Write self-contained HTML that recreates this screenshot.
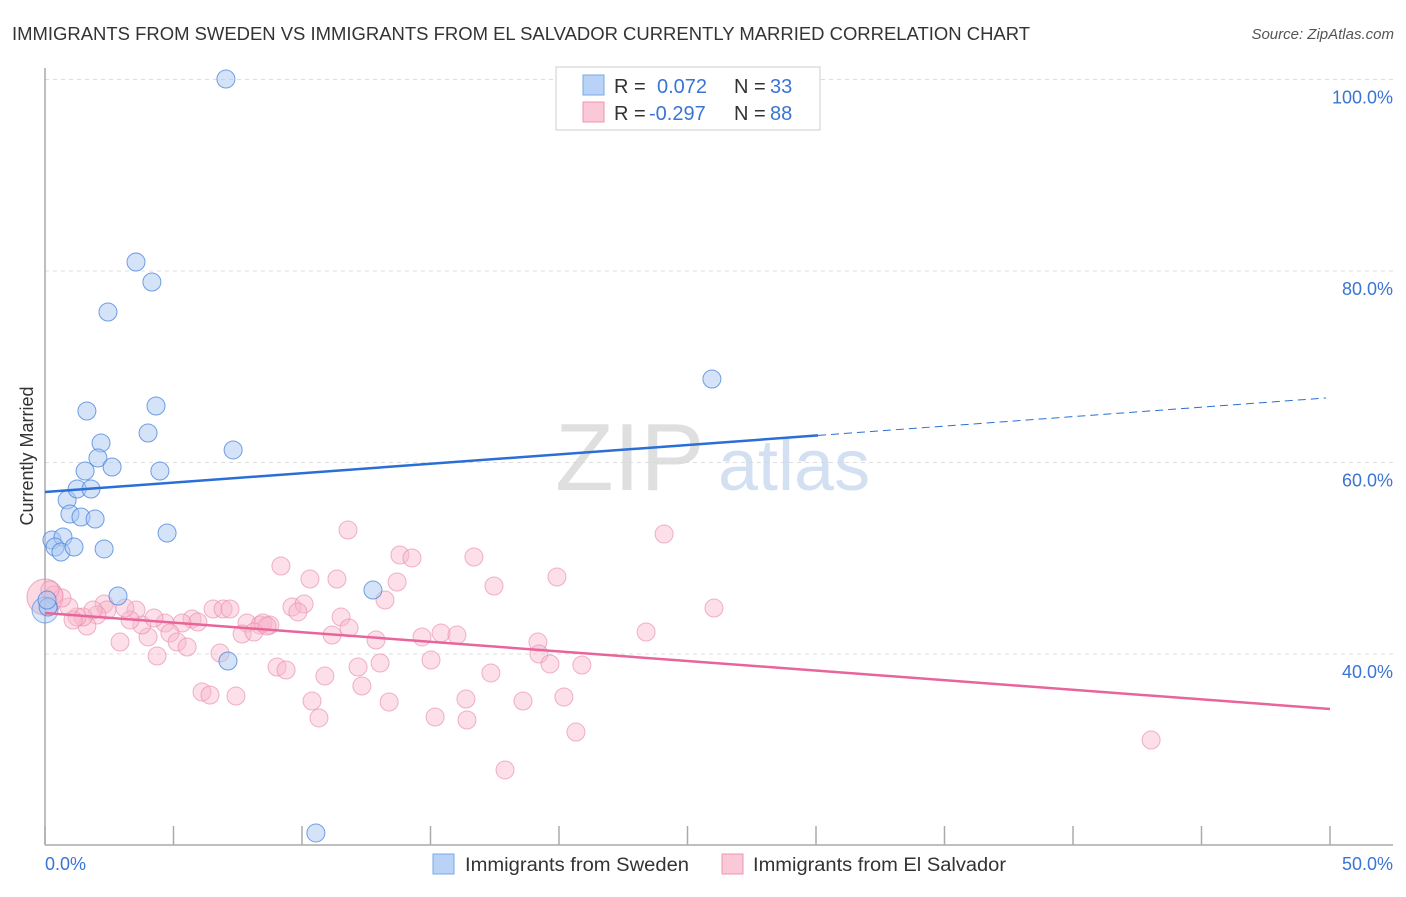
<!DOCTYPE html>
<html><head><meta charset="utf-8"><style>
body{margin:0;background:#fff;font-family:"Liberation Sans",sans-serif;}
svg text{font-family:"Liberation Sans",sans-serif;}
</style></head><body>
<svg id="chart" width="1406" height="892" xmlns="http://www.w3.org/2000/svg">
<text x="12" y="40" font-size="18" fill="#333" textLength="1018" lengthAdjust="spacingAndGlyphs">IMMIGRANTS FROM SWEDEN VS IMMIGRANTS FROM EL SALVADOR CURRENTLY MARRIED CORRELATION CHART</text>
<text x="1394" y="39" font-size="15" fill="#555" font-style="italic" text-anchor="end">Source: ZipAtlas.com</text>
<text transform="translate(33,456) rotate(-90)" font-size="18" fill="#333" text-anchor="middle">Currently Married</text>
<g id="grid"></g>
<text x="555" y="490" font-size="96" fill="#d8d8d8" font-family="Liberation Serif" opacity="0.8">ZIP</text>
<text x="718" y="490" font-size="72" fill="#c9d9f0" opacity="0.8">atlas</text>
<g id="marks"></g>
<g>
<rect x="556" y="67" width="264" height="63" fill="#fff" stroke="#ccc"/>
<rect x="583" y="75" width="21" height="20" fill="#b8d3f5" stroke="#7aa7e6"/>
<rect x="583" y="102" width="21" height="20" fill="#fac8d6" stroke="#ee94b0"/>
<text x="614" y="93" font-size="20" fill="#333">R =</text>
<text x="657" y="93" font-size="20" fill="#3a74d4">0.072</text>
<text x="734" y="93" font-size="20" fill="#333">N =</text>
<text x="770" y="93" font-size="20" fill="#3a74d4">33</text>
<text x="614" y="120" font-size="20" fill="#333">R =</text>
<text x="649" y="120" font-size="20" fill="#3a74d4">-0.297</text>
<text x="734" y="120" font-size="20" fill="#333">N =</text>
<text x="770" y="120" font-size="20" fill="#3a74d4">88</text>
</g>
<text x="45" y="870" font-size="18" fill="#3a74d4">0.0%</text>
<text x="1393" y="870" font-size="18" fill="#3a74d4" text-anchor="end">50.0%</text>
<rect x="433" y="854" width="21" height="20" fill="#b8d3f5" stroke="#7aa7e6"/>
<text x="465" y="871" font-size="19" fill="#333" textLength="224" lengthAdjust="spacingAndGlyphs">Immigrants from Sweden</text>
<rect x="722" y="854" width="21" height="20" fill="#fac8d6" stroke="#ee94b0"/>
<text x="753" y="871" font-size="19" fill="#333" textLength="253" lengthAdjust="spacingAndGlyphs">Immigrants from El Salvador</text>
</svg>
<script>
const yTicks=[40,60,80,100];
const yTickLabels=["40.0%","60.0%","80.0%","100.0%"];
const xTicks=[0,5,10,15,20,25,30,35,40,45,50];
const swedenX=[7.04,3.54,4.16,2.45,25.95,1.63,4.32,4.01,2.18,7.32,2.06,1.56,2.61,4.47,0.86,1.25,1.79,0.97,1.40,1.95,4.75,0.27,0.70,0.39,0.62,1.13,2.30,2.84,12.76,7.12,10.54,0.12,0.08];
const swedenY=[100.05,80.94,78.85,75.72,68.72,65.38,65.9,63.08,62.04,61.31,60.47,59.11,59.53,59.11,56.08,57.23,57.23,54.62,54.31,54.1,52.64,51.91,52.22,51.17,50.65,51.17,50.97,46.06,46.68,39.27,21.31,44.91,45.64];
const salvX=[11.79,9.18,10.31,11.36,13.81,13.70,13.23,9.61,10.08,9.84,11.52,11.83,11.17,12.88,13.04,12.18,12.33,10.89,10.39,13.39,10.66,9.03,9.38,6.81,6.11,6.42,7.43,6.54,6.93,7.20,7.86,8.37,8.75,8.48,7.67,8.13,8.64,5.72,5.95,5.33,4.67,4.86,5.14,5.53,4.36,4.01,3.77,4.24,3.54,3.31,2.92,3.11,2.30,2.41,2.02,1.87,1.63,1.48,1.25,1.09,0.93,0.66,0.35,0.19,14.28,16.69,24.09,19.92,17.47,26.03,23.39,14.67,15.41,16.03,19.18,19.22,19.65,20.89,15.02,17.35,16.38,18.60,20.19,15.18,16.42,20.66,17.90,43.04];
const salvY=[52.95,49.19,47.83,47.83,50.34,47.52,45.64,44.91,45.22,44.39,43.86,42.72,41.98,41.46,39.06,38.64,36.66,37.70,35.09,34.99,33.32,38.64,38.33,40.10,36.03,35.72,35.61,44.70,44.70,44.70,43.24,43.03,43.03,43.24,42.09,42.30,42.92,43.66,43.34,43.24,43.24,42.19,41.25,40.73,39.79,41.78,43.03,43.76,44.60,43.55,41.25,44.80,45.22,44.60,44.07,44.60,42.92,43.86,43.86,43.55,44.91,45.85,46.16,46.68,50.03,50.13,52.53,48.04,47.10,44.80,42.30,41.78,42.19,41.98,41.25,40.0,38.96,38.85,39.37,38.02,35.30,35.09,35.51,33.42,33.11,31.85,27.89,31.02];
const swedenTrend=[56.92,66.74];
const swedenSolidEnd=30.08;
const salvTrend=[44.28,34.26];
const NS="http://www.w3.org/2000/svg";
function sx(v){return 45+v*25.7;}
function sy(v){return 654-(v-40)*9.575;}
function mk(tag,attrs,parent){const e=document.createElementNS(NS,tag);for(const k in attrs)e.setAttribute(k,attrs[k]);parent.appendChild(e);return e;}
const grid=document.getElementById('grid');
const marks=document.getElementById('marks');
yTicks.forEach((t,i)=>{
  const l=mk('line',{x1:45,x2:1393,y1:sy(t),y2:sy(t),stroke:'#ddd','stroke-dasharray':'4,4'},grid);
  
  
  const tx=mk('text',{x:1393,y:sy(t)+24,'font-size':18,fill:'#3a74d4','text-anchor':'end'},grid);
  tx.textContent=yTickLabels[i];
  
  
});
const ya=mk('line',{x1:45,x2:45,y1:68,y2:845,stroke:'#aaa','stroke-width':1.5},grid);


const xa=mk('line',{x1:45,x2:1393,y1:845,y2:845,stroke:'#aaa','stroke-width':1.5},grid);


xTicks.forEach(t=>{
  const l=mk('line',{x1:sx(t),x2:sx(t),y1:826,y2:845,stroke:'#aaa','stroke-width':1.5},grid);
  
  
});
const big=mk('circle',{cx:sx(0),cy:sy(45.95),r:18,fill:'rgba(244,160,185,0.4)',stroke:'rgba(230,120,155,0.6)'},marks);


salvX.forEach((x,i)=>{
  const c=mk('circle',{cx:sx(x),cy:sy(salvY[i]),r:9,fill:'rgba(248,185,205,0.45)',stroke:'rgba(232,140,172,0.65)'},marks);
  
  
});
const bigb=mk('circle',{cx:sx(0),cy:sy(44.6),r:13,fill:'rgba(160,195,240,0.4)',stroke:'rgba(70,130,220,0.6)'},marks);


swedenX.forEach((x,i)=>{
  const c=mk('circle',{cx:sx(x),cy:sy(swedenY[i]),r:9,fill:'rgba(170,200,242,0.5)',stroke:'rgba(70,130,220,0.75)'},marks);
  
  
});
const sEndY=swedenTrend[0]+(swedenTrend[1]-swedenTrend[0])*swedenSolidEnd/50;
const bt=mk('line',{x1:sx(0),y1:sy(swedenTrend[0]),x2:sx(swedenSolidEnd),y2:sy(sEndY),stroke:'#2a6fd6','stroke-width':2.5},marks);


const bd=mk('line',{x1:sx(swedenSolidEnd),y1:sy(sEndY),x2:sx(50)-4,y2:sy(swedenTrend[1]),stroke:'#2a6fd6','stroke-width':1,'stroke-dasharray':'8,5'},marks);


const pt=mk('line',{x1:sx(0),y1:sy(salvTrend[0]),x2:sx(50),y2:sy(salvTrend[1]),stroke:'#e8659a','stroke-width':2.5},marks);


</script>
</body></html>
